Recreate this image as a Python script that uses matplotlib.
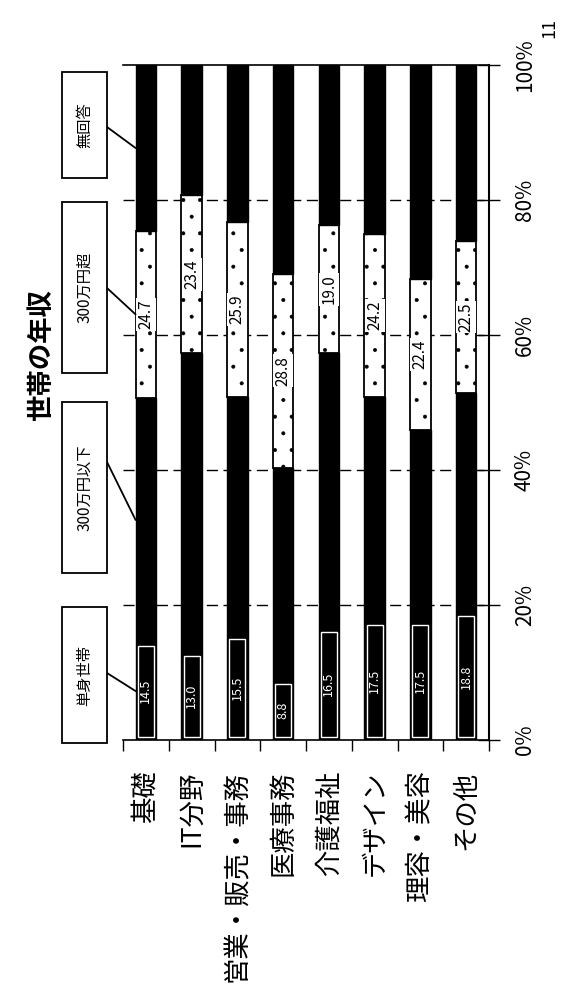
import matplotlib
matplotlib.use('Agg')
import matplotlib.pyplot as plt
from matplotlib.patches import Rectangle, ConnectionPatch
import numpy as np

plt.rcParams['font.family'] = ['Noto Sans CJK JP', 'DejaVu Sans']
plt.rcParams['hatch.linewidth'] = 0.4

# data
categories = ['基礎', 'IT分野', '営業・販売・事務', '医療事務', '介護福祉', 'デザイン', '理容・美容', 'その他']
series_names = ['単身世帯', '300万円以下', '300万円超', '無回答']
single = [14.5, 13.0, 15.5, 8.8, 16.5, 17.5, 17.5, 18.8]
low = [36.2, 44.3, 35.3, 31.5, 40.8, 33.3, 28.4, 32.6]
high = [24.7, 23.4, 25.9, 28.8, 19.0, 24.2, 22.4, 22.5]
noans = [24.6, 19.3, 23.3, 30.9, 23.7, 25.0, 31.7, 26.1]
pct_ticks = [0, 20, 40, 60, 80, 100]

W, H = 564, 994
fig = plt.figure(figsize=(W / 100, H / 100), dpi=100)
ax = fig.add_axes([123 / W, 1 - 740 / H, (489 - 123) / W, (740 - 65) / H])

x = np.arange(len(categories))
bw = 0.45
single = np.array(single)
low = np.array(low)
high = np.array(high)
noans = np.array(noans)

b1 = single
b2 = b1 + low
b3 = b2 + high

ax.bar(x, single, bw, color='black', edgecolor='black', lw=1, zorder=3)
ax.bar(x, low, bw, bottom=b1, color='black', edgecolor='black', lw=1, zorder=3)
ax.bar(x, high, bw, bottom=b2, color='white', edgecolor='black', lw=1.3,
       hatch='.', zorder=3)
ax.bar(x, noans, bw, bottom=b3, color='black', edgecolor='black', lw=1, zorder=3)
# white inner outline of the single-household segment
ax.bar(x, single - 1.0, bw * 0.78, bottom=0.5, facecolor='none', edgecolor='white',
       lw=1, zorder=4)

for i in range(len(categories)):
    ax.text(x[i], single[i] / 2, f'{single[i]:.1f}', rotation=90, ha='center',
            va='center', color='white', fontsize=9, zorder=5)
    ax.text(x[i], b2[i] + high[i] / 2, f'{high[i]:.1f}', rotation=90, ha='center',
            va='center', color='black', fontsize=11, zorder=5,
            bbox=dict(boxstyle='square,pad=0.1', fc='white', ec='none'))

ax.set_xlim(-0.5, len(categories) - 0.5)
ax.set_ylim(0, 100)

# grid
for v in pct_ticks[1:-1]:
    ax.axhline(v, color='black', lw=1, ls=(0, (8, 4)), zorder=1)

ax.spines['left'].set_visible(False)
ax.spines['top'].set_linewidth(1.2)
ax.spines['right'].set_linewidth(1.5)
ax.spines['bottom'].set_linewidth(1.2)

ax.yaxis.tick_right()
ax.set_yticks(pct_ticks)
ax.set_yticklabels([f'{v}%' for v in pct_ticks], rotation=90, va='center', fontsize=15)
ax.tick_params(axis='y', direction='inout', length=16, width=1, pad=10)

ax.set_xticks(x)
ax.set_xticklabels(categories, rotation=90, va='top', ha='center', fontsize=19)
ax.set_xticks(np.arange(len(categories) + 1) - 0.5, minor=True)
ax.tick_params(axis='x', which='major', length=0, pad=22)
ax.tick_params(axis='x', which='minor', length=8, width=1, direction='out')

# title and figure number
fig.text(42 / W, 1 - 355 / H, '世帯の年収', rotation=90, ha='center', va='center',
         fontsize=19, fontweight='bold')
fig.text(549 / W, 1 - 28 / H, '11', rotation=90, ha='center', va='center', fontsize=13)

# legend boxes (pixels: left, top, right, bottom) and leader start y
boxes = [(62, 607, 107, 743, 673), (62, 402, 107, 573, 462),
         (62, 202, 107, 373, 288), (62, 72, 107, 178, 127)]
mids = [single[0] / 2, b1[0] + low[0] / 2, b2[0] + high[0] / 2, b3[0] + noans[0] / 2]
for name, (l, t, r, btm, ly), ym in zip(series_names, boxes, mids):
    fig.patches.append(Rectangle((l / W, 1 - btm / H), (r - l) / W, (btm - t) / H,
                                 transform=fig.transFigure, fc='white', ec='black', lw=1.3))
    fig.text((l + r) / 2 / W, 1 - (t + btm) / 2 / H, name, rotation=90, ha='center',
             va='center', fontsize=11)
    con = ConnectionPatch(xyA=(r / W, 1 - ly / H), coordsA=fig.transFigure,
                          xyB=(x[0] - bw / 2, ym), coordsB=ax.transData,
                          color='black', lw=1.3)
    fig.add_artist(con)

fig.savefig('out.png', dpi=100)
